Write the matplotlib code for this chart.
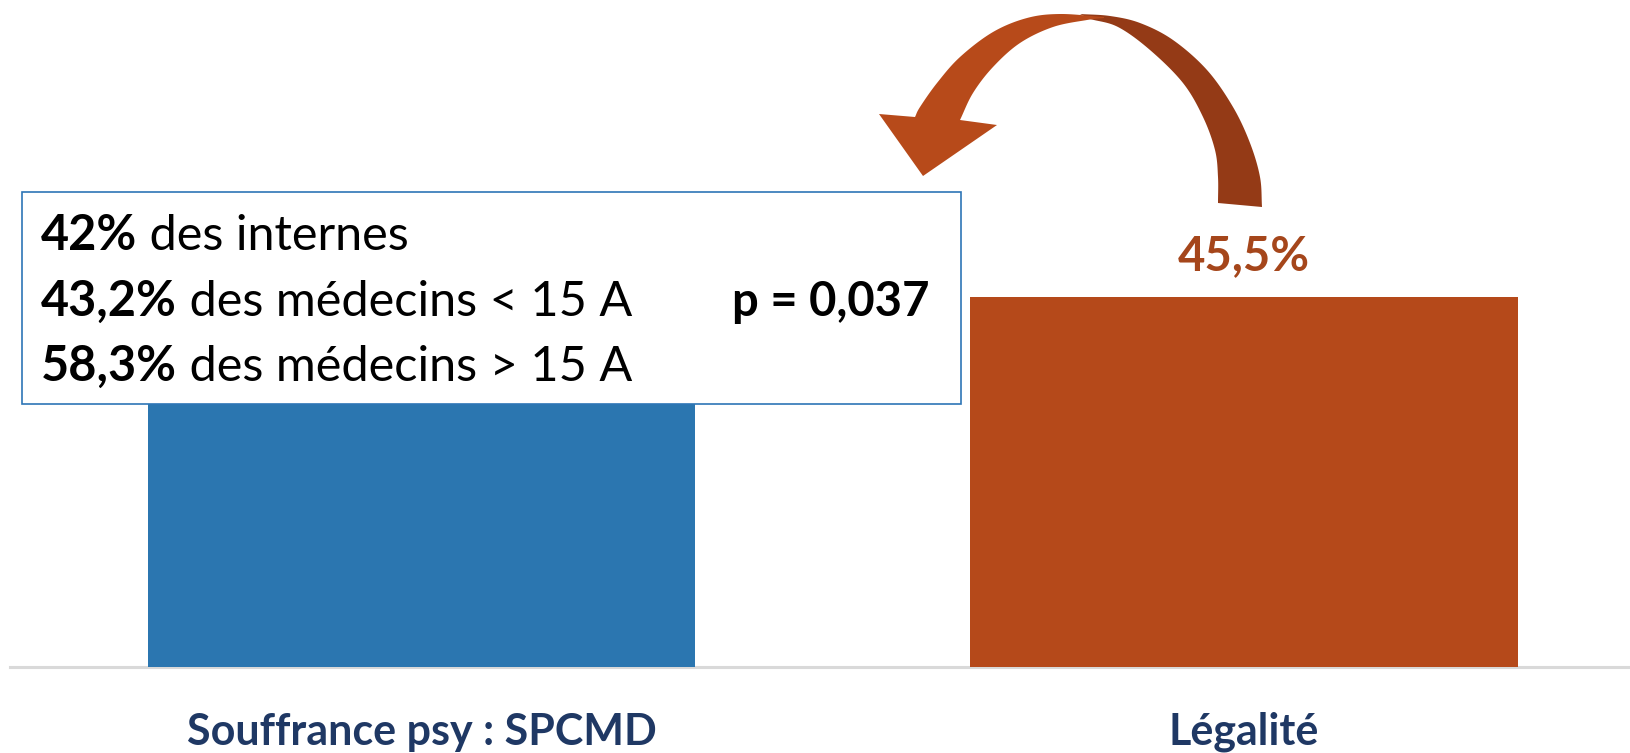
import numpy as np
import matplotlib
matplotlib.use("Agg")
import matplotlib.pyplot as plt
from matplotlib.patches import Rectangle, Polygon
from matplotlib.transforms import blended_transform_factory

# --- data -------------------------------------------------------------
categories = ["Souffrance psy : SPCMD", "Légalité"]
values = [48.0, 45.5]          # first bar's top lies behind the inset box
value_labels = [None, "45,5%"]
bar_colors = ["#2b76b0", "#b5491a"]

detail_pcts = ["42%", "43,2%", "58,3%"]
detail_texts = [" des internes", " des médecins < 15 A", " des médecins > 15 A"]
p_value_text = "p = 0,037"

# --- figure -----------------------------------------------------------
W, H, DPI = 1631, 753, 100
FONT = ["Lato", "DejaVu Sans"]
fig = plt.figure(figsize=(W / DPI, H / DPI), dpi=DPI)
fig.patch.set_facecolor("white")

# bar panel: baseline 667 px from the top, spans from x=10 to the right edge
ax = fig.add_axes([10 / W, (H - 667) / H, (W - 10) / W, 667 / H])
xpos = np.arange(len(categories))
ax.bar(xpos, values, width=0.666, color=bar_colors, zorder=2)
ax.set_xlim(-0.5003, 1.4705)
ax.set_ylim(0, 82.0)
ax.axhline(0, color="#d9d9d9", lw=2.2, zorder=1, clip_on=False)
for s in ax.spines.values():
    s.set_visible(False)
ax.set_xticks([])
ax.set_yticks([])
ax.patch.set_visible(False)

# category names under the baseline
cat_tr = blended_transform_factory(ax.transData, fig.transFigure)
for xi, name in zip(xpos, categories):
    ax.text(xi, (H - 745) / H, name, transform=cat_tr, ha="center",
            va="baseline", fontsize=31, fontweight="bold", color="#1f3864",
            family=FONT, clip_on=False)

# value labels above the bars
for xi, v, lab in zip(xpos, values, value_labels):
    if lab:
        ax.annotate(lab, xy=(xi, v), xytext=(0, 19.5), textcoords="offset points",
                    ha="center", va="baseline", fontsize=34, fontweight="bold",
                    color="#a5461b", family=FONT)

# --- overlay in pixel coordinates ---------------------------------------
ov = fig.add_axes([0, 0, 1, 1], zorder=5)
ov.set_xlim(0, W)
ov.set_ylim(H, 0)
ov.axis("off")
ov.patch.set_alpha(0)


def catmull_rom(pts, n=16):
    pts = np.asarray(pts, float)
    ext = np.vstack([2 * pts[0] - pts[1], pts, 2 * pts[-1] - pts[-2]])
    out = []
    for i in range(1, len(ext) - 2):
        p0, p1, p2, p3 = ext[i - 1], ext[i], ext[i + 1], ext[i + 2]
        for t in np.linspace(0, 1, n, endpoint=False):
            t2, t3 = t * t, t * t * t
            out.append(0.5 * ((2 * p1) + (-p0 + p2) * t
                              + (2 * p0 - 5 * p1 + 4 * p2 - p3) * t2
                              + (-p0 + 3 * p1 - 3 * p2 + p3) * t3))
    out.append(pts[-1])
    return np.array(out)


# curved arrow: darker back half rising from the right, front half with head
back_outer = catmull_rom([(1080, 14), (1110, 16), (1140, 23), (1173, 40),
                          (1207, 70), (1233, 107), (1250, 143), (1260, 177),
                          (1262, 207)])
back_inner = catmull_rom([(1218, 203), (1218, 177), (1215, 150), (1203, 117),
                          (1183, 83), (1150, 50), (1118, 27), (1090, 19)])
ov.add_patch(Polygon(np.vstack([back_outer, back_inner]), closed=True,
                     fc="#943a16", ec="none", zorder=3))

front_outer = catmull_rom([(1104, 17), (1060, 14), (1027, 18), (993, 32),
                           (960, 57), (937, 83), (920, 107), (915, 117)])
head = np.array([(879, 114), (923, 176), (997, 125)])
front_inner = catmull_rom([(960, 120), (973, 93), (993, 67), (1020, 43),
                           (1053, 27), (1087, 20), (1104, 18)])
ov.add_patch(Polygon(np.vstack([front_outer, head, front_inner]), closed=True,
                     fc="#b74a1a", ec="none", zorder=4))

# inset box with the breakdown
ov.add_patch(Rectangle((22, 192), 939, 212, fc="white", ec="#2e75b6",
                       lw=1.2, zorder=6))
baselines = [250, 316, 381]
for yb, pct, txt in zip(baselines, detail_pcts, detail_texts):
    t = ov.text(41, yb, pct, ha="left", va="baseline", fontsize=35,
                fontweight="bold", color="black", family=FONT, zorder=7)
    ov.annotate(txt, xy=(1, yb), xycoords=(t, "data"), ha="left",
                va="baseline", fontsize=35, color="black", family=FONT,
                zorder=7)
ov.text(930, baselines[1], p_value_text, ha="right", va="baseline",
        fontsize=34, fontweight="bold", color="black", family=FONT, zorder=7)

fig.savefig("out.png", dpi=DPI, facecolor="white")
